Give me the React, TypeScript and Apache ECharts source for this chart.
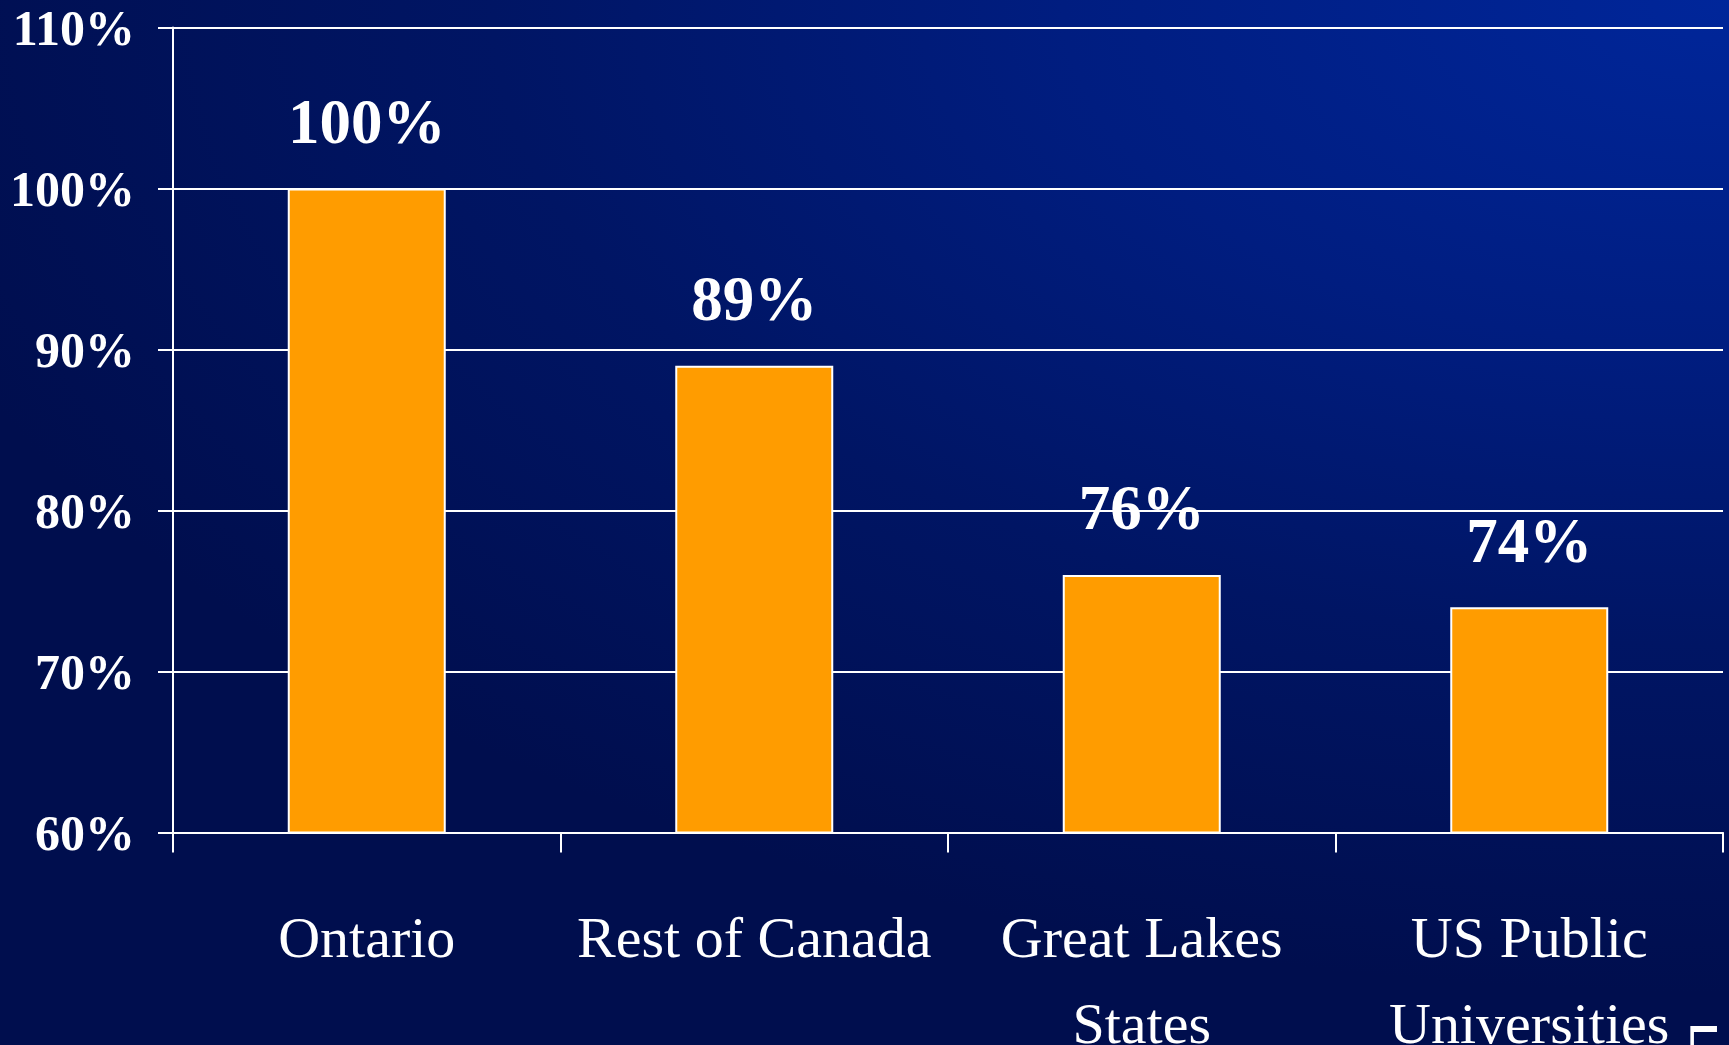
import React, { useEffect, useRef } from "react";
import * as echarts from "echarts";

const categories = ["Ontario", "Rest of Canada", "Great Lakes\nStates", "US Public\nUniversities"];
const values = [100, 89, 76, 74];
const yMin = 60;
const yMax = 110;
const yInterval = 10;

const SERIF = '"Liberation Serif", "Times New Roman", serif';

export default function App() {
  const ref = useRef<HTMLDivElement>(null);
  useEffect(() => {
    if (!ref.current) return;
    const chart = echarts.init(ref.current, null, { renderer: "svg" });
    chart.setOption({
      animation: false,
      backgroundColor: "transparent",
      grid: {
        left: 173,
        right: 6,
        top: 27.6,
        bottom: 212.5,
        containLabel: false,
        outerBoundsMode: "none",
      },
      xAxis: {
        type: "category",
        data: categories,
        boundaryGap: true,
        axisLine: { show: true, lineStyle: { color: "#ffffff", width: 2 } },
        axisTick: { show: true, length: 20, lineStyle: { color: "#ffffff", width: 2 } },
        axisLabel: {
          interval: 0,
          color: "#ffffff",
          fontFamily: SERIF,
          fontSize: 58,
          lineHeight: 86,
          margin: 62,
        },
      },
      yAxis: {
        type: "value",
        min: yMin,
        max: yMax,
        interval: yInterval,
        axisLine: { show: true, lineStyle: { color: "#ffffff", width: 2 } },
        axisTick: { show: true, length: 15, lineStyle: { color: "#ffffff", width: 2 } },
        splitLine: { show: true, lineStyle: { color: "#ffffff", width: 2 } },
        axisLabel: {
          color: "#ffffff",
          fontFamily: SERIF,
          fontWeight: "bold",
          fontSize: 50,
          margin: 38,
          padding: [8, 0, 0, 0],
          formatter: "{value}%",
        },
      },
      series: [
        {
          type: "bar",
          data: values,
          barWidth: 158,
          itemStyle: { color: "#ff9c00", borderColor: "#ffffff", borderWidth: 2 },
          label: {
            show: true,
            position: "top",
            distance: 35,
            color: "#ffffff",
            fontFamily: SERIF,
            fontWeight: "bold",
            fontSize: 63,
            lineHeight: 63,
            formatter: "{c}%",
          },
        },
      ],
      graphic: [
        {
          type: "text",
          left: 1684,
          top: 1012,
          style: {
            text: "5",
            fill: "#ffffff",
            font: '80px "Liberation Serif", "Times New Roman", serif',
          },
        },
      ],
    });
    return () => chart.dispose();
  }, []);
  return (
    <div
      style={{
        position: "fixed",
        left: 0,
        top: 0,
        width: 1729,
        height: 1045,
        overflow: "hidden",
        background:
          "radial-gradient(ellipse 110% 95% at 100% 0%, #00269a 0%, #001d80 35%, #001564 65%, #000e4e 100%)",
      }}
    >
      <div ref={ref} style={{ width: 1729, height: 1045 }} />
    </div>
  );
}
